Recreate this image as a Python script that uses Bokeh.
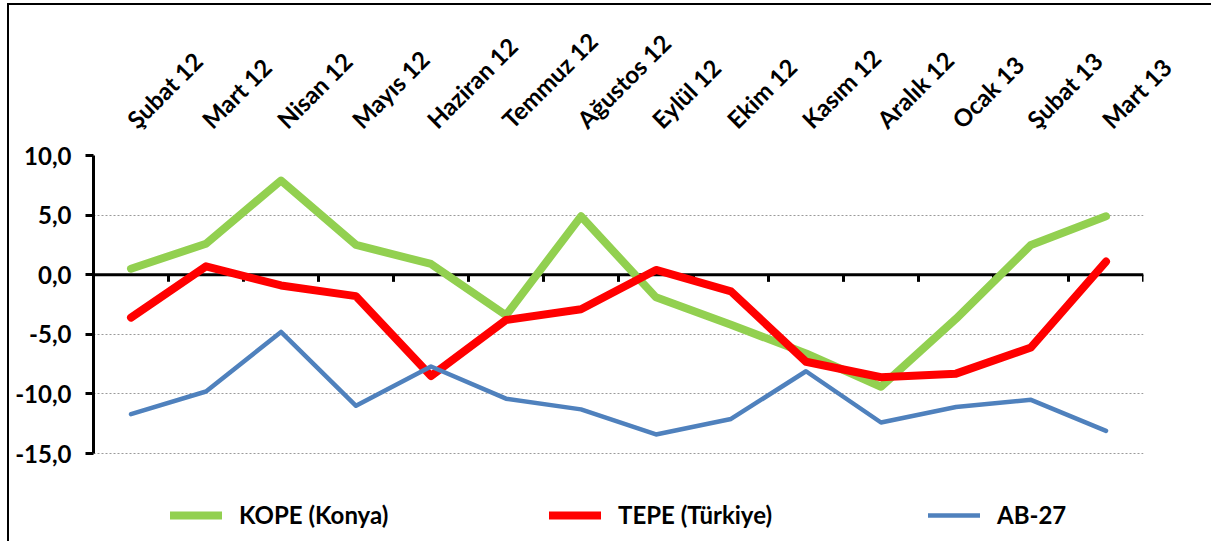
import math
from bokeh.plotting import figure
from bokeh.models import Range1d, FixedTicker, Legend, LegendItem
from bokeh.embed import file_html
from bokeh.resources import INLINE

categories = ["Şubat 12", "Mart 12", "Nisan 12", "Mayıs 12", "Haziran 12", "Temmuz 12",
              "Ağustos 12", "Eylül 12", "Ekim 12", "Kasım 12", "Aralık 12", "Ocak 13",
              "Şubat 13", "Mart 13"]
kope = [0.5, 2.6, 7.9, 2.5, 0.9, -3.4, 4.9, -1.9, -4.2, -6.6, -9.4, -3.7, 2.5, 4.9]
tepe = [-3.6, 0.7, -0.9, -1.8, -8.5, -3.8, -2.9, 0.4, -1.4, -7.3, -8.6, -8.3, -6.1, 1.1]
ab27 = [-11.7, -9.8, -4.8, -11.0, -7.7, -10.4, -11.3, -13.4, -12.1, -8.1, -12.4, -11.1, -10.5, -13.1]
series_names = ["KOPE (Konya)", "TEPE (Türkiye)", "AB-27"]
y_ticks = [-15, -10, -5, 0, 5, 10]

FONT = "Lato"
n = len(categories)
xs = [i + 0.5 for i in range(n)]

W, H = 1204, 538
TOP, LEFT, RIGHT = 150, 84, 70
AXIS_PX = 298  # pixel height of the -15..10 span
y_top = max(y_ticks)
y_span = max(y_ticks) - min(y_ticks)
y_bottom = y_top - y_span * (H - TOP) / AXIS_PX  # frame runs down to the legend area

p = figure(width=W, height=H, output_backend="svg", toolbar_location=None,
           x_range=Range1d(0, n), y_range=Range1d(y_bottom, y_top),
           x_axis_location="above",
           min_border_left=LEFT, min_border_right=RIGHT, min_border_top=TOP, min_border_bottom=0)
p.outline_line_color = None
p.background_fill_color = "white"
p.border_fill_color = "white"
p.styles = {"margin-left": "7px", "margin-top": "3px",
            "border-left": "2px solid black", "border-top": "2px solid black"}

# x axis (labels only, above)
xa = p.xaxis[0]
xa.ticker = FixedTicker(ticks=xs)
xa.major_label_overrides = {x: c for x, c in zip(xs, categories)}
xa.major_label_orientation = math.pi / 4
xa.axis_line_color = None
xa.major_tick_line_color = None
xa.minor_tick_line_color = None
xa.major_label_standoff = 26
xa.major_label_text_font = FONT
xa.major_label_text_font_style = "bold"
xa.major_label_text_font_size = "24px"
xa.major_label_text_color = "black"
p.xgrid.visible = False

# y axis
ya = p.yaxis[0]
ya.ticker = FixedTicker(ticks=y_ticks)
ya.bounds = (min(y_ticks), max(y_ticks))
ya.major_label_overrides = {t: f"{t:.1f}".replace(".", ",") for t in y_ticks}
ya.axis_line_width = 3
ya.axis_line_color = "black"
ya.major_tick_line_width = 3
ya.major_tick_line_color = "black"
ya.major_tick_out = 8
ya.major_tick_in = 0
ya.minor_tick_line_color = None
ya.major_label_standoff = 14
ya.major_label_text_font = FONT
ya.major_label_text_font_style = "bold"
ya.major_label_text_font_size = "24px"
ya.major_label_text_color = "black"
p.ygrid.ticker = FixedTicker(ticks=y_ticks)
p.ygrid.grid_line_color = "#9a9a9a"
p.ygrid.grid_line_dash = "2 2"
p.ygrid.grid_line_width = 1

# zero axis line with category boundary ticks
p.segment(x0=[0], y0=[0], x1=[n], y1=[0], line_color="black", line_width=3)
bounds = list(range(n + 1))
p.segment(x0=bounds, y0=[0] * len(bounds), x1=bounds, y1=[-0.6] * len(bounds),
          line_color="black", line_width=3)

r1 = p.line(xs, kope, line_color="#92D050", line_width=8, line_cap="round", line_join="round")
r2 = p.line(xs, tepe, line_color="#FF0000", line_width=8, line_cap="round", line_join="round")
r3 = p.line(xs, ab27, line_color="#4F81BD", line_width=4.5, line_cap="round", line_join="round")

legend = Legend(items=[LegendItem(label=series_names[0], renderers=[r1]),
                       LegendItem(label=series_names[1], renderers=[r2]),
                       LegendItem(label=series_names[2], renderers=[r3])],
                orientation="horizontal", location=(77, 14),
                padding=0, spacing=145, glyph_width=52, label_standoff=17, label_width=165,
                border_line_color=None, background_fill_alpha=0,
                label_text_font=FONT, label_text_font_style="bold",
                label_text_font_size="24px", label_text_color="black")
p.add_layout(legend, "center")

open("out.html", "w").write(file_html(p, INLINE))
